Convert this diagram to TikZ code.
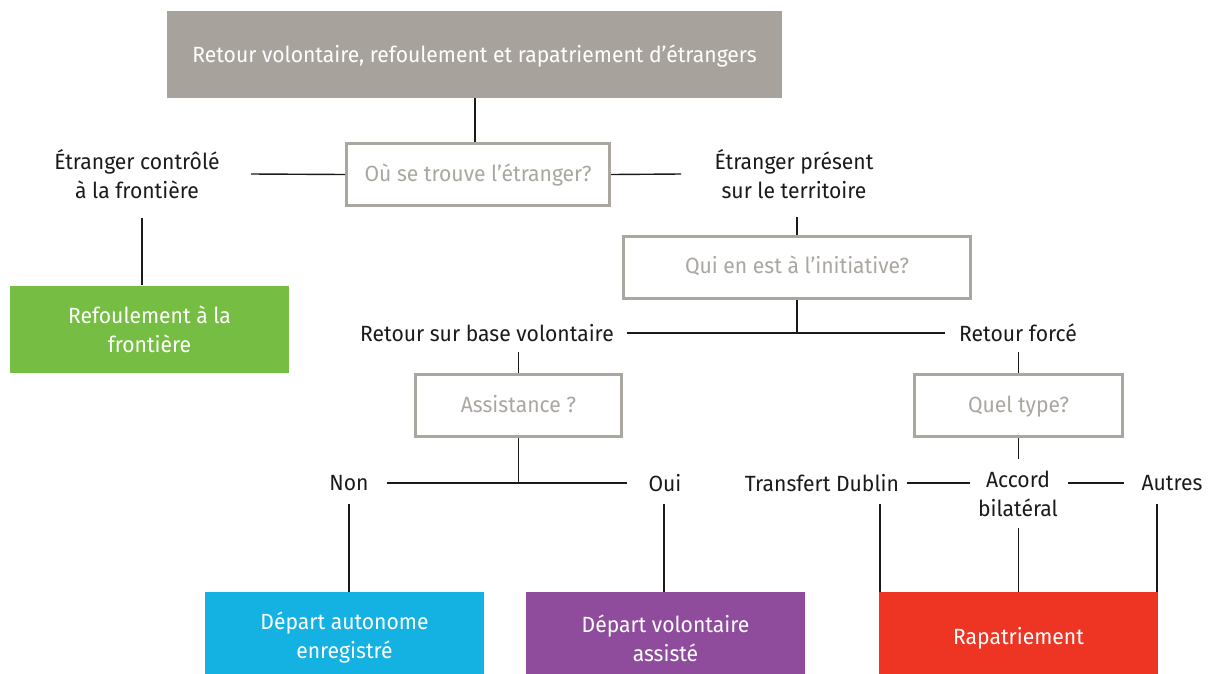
\documentclass[tikz,border=0pt]{standalone}
\usepackage{fontspec}
\setmainfont{Fira Sans}[FakeStretch=0.96]
\definecolor{boxgray}{HTML}{A7A39C}
\definecolor{qgray}{HTML}{AAA7A1}
\definecolor{txt}{HTML}{1A1A1A}
\definecolor{cgreen}{HTML}{76BE43}
\definecolor{cblue}{HTML}{14B1E3}
\definecolor{cpurple}{HTML}{8F4C9D}
\definecolor{cred}{HTML}{EE3524}
\begin{document}
\begin{tikzpicture}[x=1pt,y=-1pt,
  every node/.style={font=\fontsize{22}{29}\selectfont},
  ln/.style={draw=txt,line width=1.4pt},
  filledbox/.style={fill=#1,text=white,align=center,inner sep=0pt,minimum width=279pt,minimum height=92pt},
  qbox/.style={draw=qgray,line width=3pt,fill=white,text=qgray,inner sep=0pt,minimum height=62pt,text height=16pt,text depth=3pt},
  lab/.style={text=txt,align=center,inner sep=0pt}]
\useasboundingbox (0,0) rectangle (1211,673);
% boxes
\node[fill=boxgray,text=white,inner sep=0pt,minimum width=615pt,minimum height=87pt,text height=18pt,text depth=2pt] (title) at (474.5,54.5) {Retour volontaire, refoulement et rapatriement d’étrangers};
\node[qbox,minimum width=263pt] (ou) at (478,174.5) {Où se trouve l’étranger?};
\node[lab] (left) at (137,174) {Étranger contrôlé\\à la frontière};
\node[lab] (right) at (794,174) {Étranger présent\\sur le territoire};
\node[filledbox=cgreen,minimum height=87pt] (green) at (149.5,329) {Refoulement à la\\frontière};
\node[qbox,minimum width=347pt] (qui) at (797,267) {Qui en est à l’initiative?};
\node[lab] (rsv) at (487,333) {Retour sur base volontaire};
\node[lab] (rf) at (1018,333) {Retour forcé};
\node[qbox,minimum width=206pt] (assist) at (518.5,405.5) {Assistance ?};
\node[qbox,minimum width=208pt] (quel) at (1018.5,405.5) {Quel type?};
\node[lab] (non) at (349,483) {Non};
\node[lab] (oui) at (665,483) {Oui};
\node[lab] (td) at (822,483) {Transfert Dublin};
\node[lab] (acc) at (1018,494) {Accord\\bilatéral};
\node[lab] (autres) at (1172,483) {Autres};
\node[filledbox=cblue] (blue) at (344.5,638) {Départ autonome\\enregistré};
\node[filledbox=cpurple] (purple) at (665.5,638) {Départ volontaire\\assisté};
\node[filledbox=cred] (red) at (1018.5,638) {Rapatriement};
% free ends
\coordinate (l1) at (251,174);
\coordinate (r1) at (681,174);
\coordinate (l2) at (142,218);
\coordinate (r2) at (797,217);
\coordinate (q1) at (797,333);
\coordinate (h1a) at (627,333);
\coordinate (h1b) at (945,333);
\coordinate (a1) at (518.5,352);
\coordinate (f1) at (1018.5,352);
\coordinate (a2) at (518.5,483);
\coordinate (h2a) at (387,483);
\coordinate (h2b) at (627,483);
\coordinate (q2) at (1018.5,459);
\coordinate (h3a) at (907,483);
\coordinate (h3b) at (970,483);
\coordinate (h4a) at (1068,483);
\coordinate (h4b) at (1124,483);
\coordinate (n1) at (349,504);
\coordinate (o1) at (664,504);
\coordinate (t1) at (880,504);
\coordinate (b1) at (1018.5,528);
\coordinate (u1) at (1157,504);
\coordinate (c0) at (475,98);
% connectors
\draw[ln] (c0) -- (c0 |- ou.north);
\draw[ln] (l1) -- (ou.west);
\draw[ln] (ou.east) -- (r1);
\draw[ln] (l2) -- (l2 |- green.north);
\draw[ln] (r2) -- (qui.north);
\draw[ln] (qui.south) -- (q1);
\draw[ln] (h1a) -- (h1b);
\draw[ln] (a1) -- (assist.north);
\draw[ln] (f1) -- (quel.north);
\draw[ln] (assist.south) -- (a2);
\draw[ln] (h2a) -- (h2b);
\draw[ln] (quel.south) -- (q2);
\draw[ln] (h3a) -- (h3b);
\draw[ln] (h4a) -- (h4b);
\draw[ln] (n1) -- (n1 |- blue.north);
\draw[ln] (o1) -- (o1 |- purple.north);
\draw[ln] (t1) -- (t1 |- red.north);
\draw[ln] (b1) -- (red.north);
\draw[ln] (u1) -- (u1 |- red.north);
\end{tikzpicture}
\end{document}
